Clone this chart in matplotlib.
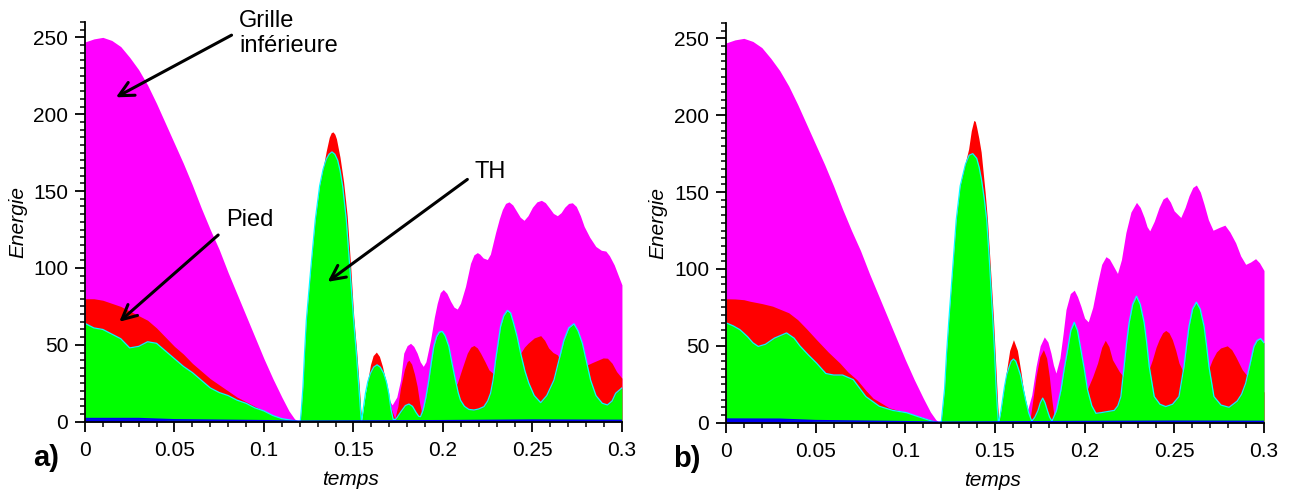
import numpy as np
import matplotlib.pyplot as plt
from matplotlib.ticker import MultipleLocator

plt.rcParams['font.family'] = ['Liberation Sans', 'DejaVu Sans']

# ---- panel a) ----
mag_a_t = [0, 0.005, 0.01, 0.015, 0.02, 0.025, 0.03, 0.035, 0.04, 0.045, 0.05, 0.055, 0.06, 0.065,
           0.07, 0.075, 0.08, 0.085, 0.09, 0.095, 0.1, 0.105, 0.11, 0.114, 0.117, 0.119,
           0.1545, 0.16, 0.165, 0.1685, 0.1716, 0.1742, 0.1763, 0.1781, 0.18, 0.1819, 0.1837, 0.1856,
           0.1873, 0.189, 0.1905, 0.1931, 0.1952, 0.1968, 0.1985, 0.2002, 0.2022, 0.2043, 0.2062,
           0.208, 0.2098, 0.2126, 0.2154, 0.2173, 0.2192, 0.2206, 0.2225, 0.2248, 0.2265, 0.2294,
           0.2315, 0.2332, 0.235, 0.2369, 0.239, 0.2411, 0.2432, 0.2453, 0.2475, 0.25, 0.2525, 0.255,
           0.2572, 0.2595, 0.2617, 0.2639, 0.266, 0.268, 0.2702, 0.2723, 0.2745, 0.2768, 0.2789,
           0.282, 0.2854, 0.2885, 0.291, 0.293, 0.2957, 0.298, 0.3]
mag_a_e = [247, 249, 250, 248, 244, 237, 229, 219, 207, 194, 181, 168, 154, 139,
           125, 112, 97, 83, 69, 55, 41, 28, 16, 7, 2, 0,
           0, 12, 20, 17, 10.9, 16, 27, 44.6, 49.5, 51, 49, 44.6,
           39, 36, 39, 53.3, 68, 77, 84, 86, 83.5, 78.3, 74.5,
           73.3, 77, 88, 103, 108.5, 110, 109, 106.5, 105.5, 109, 123,
           132, 138, 142, 143, 141, 137, 133, 131, 134, 139.5, 143, 144,
           142.5, 139, 135.5, 134, 136, 139.5, 142, 142.4, 140, 134, 127,
           120, 114, 111.5, 111, 108, 102, 95, 89]

red_a_t = [0, 0.005, 0.01, 0.015, 0.02, 0.025, 0.03, 0.035, 0.04, 0.045, 0.05, 0.055, 0.06, 0.065,
           0.07, 0.075, 0.08, 0.085, 0.09, 0.095, 0.1, 0.105, 0.11, 0.115, 0.12,
           0.1203, 0.1209, 0.1218, 0.1227, 0.1237, 0.1262, 0.1287, 0.1311, 0.133, 0.1348, 0.1365,
           0.1376, 0.1386, 0.1396, 0.1405, 0.1425, 0.1445, 0.1465, 0.1484, 0.1502, 0.1518, 0.1532,
           0.1541, 0.1548,
           0.1558, 0.157, 0.158, 0.1595, 0.161, 0.1628, 0.1645, 0.1662, 0.1679, 0.1693, 0.1707, 0.1731,
           0.1748, 0.1763, 0.1785, 0.18, 0.181, 0.1825, 0.1841, 0.1856, 0.187, 0.1884, 0.195, 0.2,
           0.204, 0.208, 0.2108, 0.2136, 0.2155, 0.2173, 0.2192, 0.221, 0.2235, 0.2257, 0.2294, 0.236,
           0.2405, 0.2434, 0.2455, 0.2475, 0.251, 0.2546, 0.2568, 0.259, 0.2615, 0.2639, 0.2732,
           0.2807, 0.2835, 0.2865, 0.2895, 0.2919, 0.2945, 0.297, 0.3]
red_a_e = [80, 80, 79, 77, 75, 72, 69, 66, 61, 55, 49, 44, 38, 33,
           28, 24, 20, 16, 13, 10, 7, 4, 2, 1, 0,
           0, 8, 22.8, 45, 66.3, 100, 131.6, 153.3, 165, 176, 185,
           188, 188.5, 187, 184, 172, 156, 134, 102, 68, 46, 24,
           8, 0,
           8, 18, 27, 37, 43, 45.3, 42.5, 36, 27, 18, 9.8, 2.2,
           10, 22, 34, 39, 40, 37.5, 31, 23, 12, 4.4, 15, 15,
           18, 25, 35, 44.6, 48.5, 49.6, 48, 44.6, 39, 33.7, 30, 20,
           32, 44.6, 48.5, 51, 54.5, 56, 53, 48, 45, 43.5, 25,
           37, 38.5, 40, 41.5, 41.3, 38, 32.6, 28.3]

grn_a_t = [0, 0.005, 0.01, 0.015, 0.02, 0.025, 0.03, 0.035, 0.04, 0.045, 0.05, 0.055, 0.06, 0.065,
           0.07, 0.075, 0.08, 0.085, 0.09, 0.095, 0.1, 0.105, 0.11, 0.115, 0.12,
           0.1203, 0.1209, 0.1218, 0.1227, 0.1237, 0.1262, 0.1287, 0.1311, 0.133, 0.1348, 0.1364,
           0.138, 0.1396, 0.1412, 0.1426, 0.144, 0.146, 0.148, 0.1501, 0.1516, 0.153, 0.1539, 0.1545,
           0.1552, 0.1567, 0.158, 0.1595, 0.1613, 0.1632, 0.165, 0.1669, 0.1684, 0.1697, 0.171, 0.1722,
           0.1735, 0.1745, 0.1765, 0.179, 0.181, 0.183, 0.185, 0.1865, 0.1875, 0.189, 0.1905, 0.1921,
           0.1935, 0.1949, 0.1965, 0.198, 0.1996, 0.2012, 0.2033, 0.205, 0.207, 0.2085, 0.2098, 0.212,
           0.2145, 0.2173, 0.22, 0.2229, 0.225, 0.2266, 0.228, 0.2294, 0.2308, 0.2322, 0.234, 0.236,
           0.2378, 0.2395, 0.2415, 0.2434, 0.2458, 0.248, 0.251, 0.2546, 0.258, 0.262, 0.2648, 0.2676,
           0.2703, 0.2732, 0.2755, 0.2779, 0.2802, 0.2825, 0.2855, 0.289, 0.2919, 0.2945, 0.2965,
           0.2985, 0.3]
grn_a_e = [64, 61, 60, 57, 54, 48, 49, 52, 51, 46, 41, 36, 32, 27,
           22, 19, 17, 14, 12, 9, 7, 4, 2, 1, 0,
           0, 8, 22.8, 45, 66.3, 100, 131.6, 153.3, 164, 170.7, 174,
           175.5, 174, 170, 163, 153, 131.6, 100, 66.3, 45, 22.8, 8, 0,
           6, 18.5, 26, 31.5, 35.5, 37, 35.5, 31.5, 26, 18.5, 8, 1.5,
           1.5, 3, 6.5, 10.5, 11.5, 10, 6, 3.5, 3.3, 8, 16, 27,
           38.5, 49, 55.5, 58.3, 58.7, 56, 49, 38.5, 27, 19, 14, 10,
           8, 7.6, 8.3, 9.8, 13.5, 18.5, 27, 40, 51, 62, 69, 72.4,
           70.7, 64, 55, 44.6, 33, 25, 17, 12.4, 17, 27, 40, 53,
           61, 63.7, 59, 51, 39, 27, 17, 12, 10.9, 13.5, 18.5,
           20.5, 22]

blu_a_t = [0, 0.03, 0.05, 0.1, 0.12, 0.2, 0.25, 0.3]
blu_a_e = [2, 2, 1.2, 0.6, 0.3, 0.6, 1, 0.8]

# ---- panel b) ----
mag_b_t = [0, 0.005, 0.01, 0.015, 0.02, 0.025, 0.03, 0.035, 0.04, 0.045, 0.05, 0.055, 0.06, 0.065,
           0.07, 0.075, 0.08, 0.085, 0.09, 0.095, 0.1, 0.105, 0.11, 0.114, 0.117, 0.119,
           0.152, 0.157, 0.163, 0.166, 0.1682, 0.1705, 0.1729, 0.1752, 0.1775, 0.1795, 0.1812, 0.1826,
           0.184, 0.1862, 0.188, 0.1896, 0.192, 0.1942, 0.196, 0.1979, 0.2, 0.202, 0.2045, 0.2072,
           0.2095, 0.2119, 0.2138, 0.2155, 0.2183, 0.2205, 0.223, 0.2258, 0.2289, 0.231, 0.2332,
           0.2348, 0.2363, 0.2388, 0.2415, 0.2437, 0.2458, 0.2478, 0.2499, 0.2536, 0.256, 0.2582,
           0.2603, 0.2623, 0.2645, 0.2666, 0.269, 0.2716, 0.275, 0.2782, 0.281, 0.2842, 0.287, 0.2898,
           0.2925, 0.2953, 0.2975, 0.3]
mag_b_e = [247, 249, 250, 248, 244, 237, 229, 219, 207, 194, 181, 168, 154, 139,
           125, 112, 97, 83, 69, 55, 41, 28, 16, 7, 2, 0,
           0, 15, 25, 17, 8.3, 18, 36.6, 50, 55.8, 52.5, 45.3, 37.5,
           32.3, 42, 58, 73.6, 84, 86.2, 82, 75.8, 68, 65.6, 75, 91,
           103, 108, 106.5, 103, 97.1, 106, 123.7, 137, 143.3, 140, 133.5,
           127.5, 124.8, 131, 140, 145.5, 147, 143.5, 137.8, 133.5, 140, 147.6,
           153, 154.6, 150, 142, 132, 125.2, 127, 128.5, 124, 117, 108.5, 103,
           104.5, 106.7, 104, 99]

red_b_t = [0, 0.005, 0.01, 0.0134, 0.02, 0.026, 0.035, 0.04, 0.045, 0.0505, 0.057, 0.0635, 0.068,
           0.073, 0.078, 0.082, 0.087, 0.091, 0.1007, 0.11, 0.115, 0.119,
           0.12, 0.1207, 0.1219, 0.123, 0.1243, 0.1264, 0.1284, 0.1306, 0.133, 0.1353, 0.1368, 0.1382,
           0.139, 0.1398, 0.141, 0.1423, 0.1445, 0.1458, 0.1475, 0.1492, 0.151, 0.1516, 0.1522,
           0.1534, 0.1548, 0.1562, 0.1582, 0.1603, 0.1625, 0.1646, 0.166, 0.1677, 0.1695, 0.171,
           0.1729, 0.175, 0.177, 0.1788, 0.1803, 0.1817, 0.1831, 0.19, 0.1979, 0.2016, 0.2045, 0.2072,
           0.2095, 0.2115, 0.2135, 0.2155, 0.2193, 0.225, 0.2289, 0.2345, 0.2378, 0.2398, 0.2415,
           0.2435, 0.2452, 0.247, 0.2489, 0.2508, 0.2526, 0.2582, 0.2623, 0.2685, 0.2712, 0.2735,
           0.2758, 0.2795, 0.282, 0.2842, 0.2879, 0.2944, 0.3]
red_b_e = [80.6, 80.5, 80, 79, 77.5, 75.8, 71.5, 67, 61, 54, 46, 38.8, 33,
           28, 21, 16, 12.5, 9.7, 6.5, 3.3, 1.5, 0,
           0, 8, 22, 45, 67, 100, 132, 154, 167, 178, 190, 196.6,
           196, 192, 185, 176, 150, 132, 100, 67, 24, 10, 0,
           8, 20, 32, 47, 54, 47, 32, 20, 10.5, 1.8, 14,
           30, 43, 47.5, 42, 30, 15, 2.9, 15, 20, 22, 30, 38.8,
           49, 53.6, 49.5, 41, 33.3, 25, 20, 30, 41, 49, 54,
           58.5, 60, 58.5, 54, 47, 38.8, 25, 20, 33, 41, 46,
           48.6, 50, 47.5, 43, 34.4, 25, 20]

grn_b_t = [0, 0.004, 0.0078, 0.012, 0.015, 0.018, 0.022, 0.027, 0.0338, 0.038, 0.0412, 0.046,
           0.0505, 0.0557, 0.06, 0.065, 0.071, 0.078, 0.0855, 0.093, 0.1007, 0.107, 0.113, 0.118,
           0.12, 0.1207, 0.1219, 0.123, 0.1243, 0.1264, 0.1284, 0.1306, 0.1335, 0.1356, 0.1376,
           0.1398, 0.1412, 0.1425, 0.144, 0.1454, 0.147, 0.1488, 0.1498, 0.1506, 0.1513, 0.1519,
           0.1526, 0.1534, 0.1553, 0.1565, 0.1578, 0.159, 0.1603, 0.1616, 0.1628, 0.1642, 0.1655,
           0.1672, 0.1688, 0.1705, 0.1722, 0.174, 0.1753, 0.1766, 0.1779, 0.1792, 0.1805, 0.1818,
           0.1843, 0.1868, 0.1886, 0.1905, 0.1923, 0.1942, 0.196, 0.1979, 0.1998, 0.2016, 0.204,
           0.2063, 0.209, 0.2115, 0.214, 0.2165, 0.2185, 0.2202, 0.222, 0.2234, 0.2248, 0.2268,
           0.2289, 0.231, 0.2332, 0.2346, 0.236, 0.2388, 0.242, 0.2452, 0.249, 0.2526, 0.2554, 0.2568,
           0.2582, 0.2602, 0.2623, 0.2644, 0.2666, 0.268, 0.2693, 0.2721, 0.276, 0.2805, 0.285,
           0.2875, 0.2898, 0.292, 0.2944, 0.2962, 0.2981, 0.3]
grn_b_e = [65, 63, 60.5, 56, 52, 49.6, 51, 55, 58.4, 55, 50, 44,
           38.8, 32, 31, 31, 28, 17, 10.7, 8, 6.5, 4, 1.7, 0,
           0, 8, 22, 45, 67, 100, 132, 154, 168, 174, 175,
           172, 166, 158, 146, 132, 103, 67, 45, 23.5, 10, 0,
           3, 8.3, 23.5, 31, 36, 40, 41.4, 40, 36, 31, 23.5,
           14, 6.3, 1, 3.5, 8, 13, 16, 13, 8, 3.5, 1,
           8, 21.4, 35, 47.5, 60, 65.3, 60, 47.5, 35, 21.4, 11,
           6.1, 6.5, 7, 7.5, 8, 11, 17, 36.6, 52, 65, 77,
           82.3, 77, 65, 52, 36.6, 17, 12, 10.5, 12, 17, 36.6, 50,
           62.7, 74, 78.4, 74, 62.7, 50, 36.6, 17, 11.5, 10, 14,
           18.5, 25.7, 37, 49.6, 53.5, 54.7, 52]

blu_b_t = [0, 0.03, 0.05, 0.1, 0.12, 0.2, 0.25, 0.3]
blu_b_e = [2.3, 2.2, 1.3, 0.6, 0.3, 0.7, 0.9, 0.8]

x_ticks = [0, 0.05, 0.1, 0.15, 0.2, 0.25, 0.3]
x_labels = ['0', '0.05', '0.1', '0.15', '0.2', '0.25', '0.3']
y_ticks = [0, 50, 100, 150, 200, 250]

MAG, RED, GRN, CYA, BLU = '#ff00ff', '#ff0000', '#00ff00', '#00ffff', '#0000ee'

fig = plt.figure(figsize=(12.89, 4.93), dpi=100)
ax_a = fig.add_axes([0.0659, 0.1446, 0.4166, 0.8108])
ax_b = fig.add_axes([0.5632, 0.1426, 0.4174, 0.8108])


def draw(ax, mt, me, rt, re, gt, ge, bt, be, tag):
    ax.fill_between(mt, 0, me, color=MAG, lw=0)
    ax.fill_between(rt, 0, re, color=RED, lw=0)
    ax.plot(gt, ge, color=CYA, lw=0.9)
    ax.fill_between(gt, 0, ge, color=GRN, lw=0)
    ax.fill_between(bt, 0, be, color=BLU, lw=0)
    ax.plot(bt, be, color=BLU, lw=1.2)
    ax.set_xlim(0, 0.3)
    ax.set_ylim(0, 260)
    ax.set_xticks(x_ticks)
    ax.set_xticklabels(x_labels)
    ax.set_yticks(y_ticks)
    ax.xaxis.set_minor_locator(MultipleLocator(0.01))
    ax.yaxis.set_minor_locator(MultipleLocator(5))
    for s in ['top', 'right']:
        ax.spines[s].set_visible(False)
    for s in ['left', 'bottom']:
        ax.spines[s].set_linewidth(1.3)
    ax.tick_params(which='major', direction='out', length=7, width=1.3, labelsize=15, pad=5)
    ax.tick_params(axis='x', which='major', pad=7)
    ax.tick_params(which='minor', direction='out', length=3.5, width=1.1)
    ax.set_ylabel('Energie', fontsize=15, style='italic')
    ax.yaxis.set_label_coords(-0.108, 0.5)
    ax.set_xlabel('temps', fontsize=15, style='italic')
    ax.xaxis.set_label_coords(0.495, -0.122)
    ax.text(-0.073, -0.09, tag, transform=ax.transAxes, fontsize=21, fontweight='bold',
            ha='center', va='center')


draw(ax_a, mag_a_t, mag_a_e, red_a_t, red_a_e, grn_a_t, grn_a_e, blu_a_t, blu_a_e, 'a)')
draw(ax_b, mag_b_t, mag_b_e, red_b_t, red_b_e, grn_b_t, grn_b_e, blu_b_t, blu_b_e, 'b)')

arrow = dict(arrowstyle='->', lw=2.2, color='black', mutation_scale=26)
ax_a.annotate('Grille\ninférieure', xy=(0.0173, 211), xytext=(0.0862, 268),
              fontsize=17, ha='left', va='top', annotation_clip=False,
              arrowprops=dict(arrow, relpos=(0, 0.55), shrinkA=4, shrinkB=0))
ax_a.annotate('Pied', xy=(0.0192, 65), xytext=(0.0789, 131),
              fontsize=17, ha='left', va='center',
              arrowprops=dict(arrow, relpos=(0, 0.15), shrinkA=5, shrinkB=0))
ax_a.annotate('TH', xy=(0.1356, 91), xytext=(0.2177, 162.5),
              fontsize=17, ha='left', va='center',
              arrowprops=dict(arrow, relpos=(0, 0.4), shrinkA=4, shrinkB=0))

fig.savefig('out.png', dpi=100)
